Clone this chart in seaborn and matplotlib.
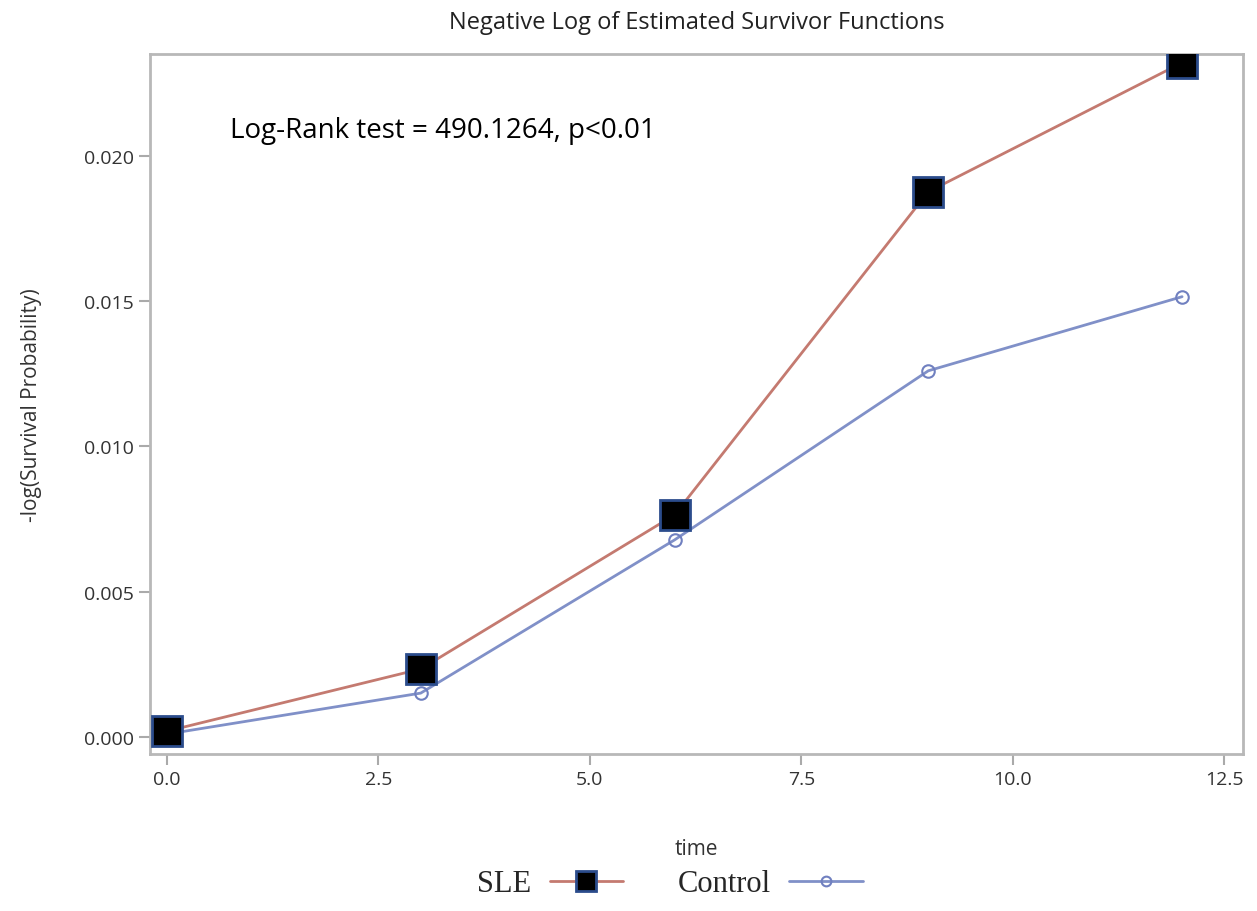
import pandas as pd
import numpy as np
import matplotlib.pyplot as plt
import seaborn as sns
from matplotlib.lines import Line2D

sns.set_style('white')
plt.rcParams['font.family'] = ['Open Sans', 'DejaVu Sans']

# данные
time = [0, 3, 6, 9, 12]
sle_vals = [0.0002, 0.00234, 0.00764, 0.01876, 0.0232]
control_vals = [0.0001, 0.00151, 0.00678, 0.0126, 0.01515]
groups = ['SLE', 'Control']

df = pd.DataFrame({
    'time': time * 2,
    'value': sle_vals + control_vals,
    'group': [groups[0]] * len(time) + [groups[1]] * len(time),
})

fig = plt.figure(figsize=(12.57, 9.12), dpi=100)
ax = fig.add_axes([150 / 1257, 1 - 755 / 912, (1243 - 150) / 1257, (755 - 55) / 912])

palette = {'SLE': '#c47a70', 'Control': '#8090c8'}
sns.lineplot(data=df, x='time', y='value', hue='group', palette=palette,
             linewidth=2, legend=False, ax=ax)

# маркеры
sle = df[df['group'] == 'SLE']
ctl = df[df['group'] == 'Control']
ax.plot(ctl['time'], ctl['value'], ls='none', marker='o', ms=9,
        mfc='none', mec='#7080c0', mew=1.5, zorder=5)
ax.plot(sle['time'], sle['value'], ls='none', marker='s', ms=21,
        mfc='black', mec='#2b4c8c', mew=2, zorder=6)

ax.set_xlim(-0.2, 12.72)
ax.set_ylim(-0.000585, 0.0235)
ax.set_xticks([0, 2.5, 5.0, 7.5, 10.0, 12.5])
ax.set_xticklabels(['0.0', '2.5', '5.0', '7.5', '10.0', '12.5'])
ax.set_yticks([0, 0.005, 0.010, 0.015, 0.020])
ax.set_yticklabels(['0.000', '0.005', '0.010', '0.015', '0.020'])
ax.tick_params(axis='both', colors='#aaaaaa', labelcolor='#333333', labelsize=14,
               length=8, width=1.5, direction='out', left=True, bottom=True)

for s in ax.spines.values():
    s.set_color('#b8b8b8')
    s.set_linewidth(2)

ax.set_xlabel('time', fontsize=15, color='#333333', labelpad=36)
ax.set_ylabel('-log(Survival Probability)', fontsize=15, color='#333333', labelpad=30)
ax.set_title('Negative Log of Estimated Survivor Functions', fontsize=17,
             color='#222222', pad=19)

ax.text(0.74, 0.0209, 'Log-Rank test = 490.1264, p<0.01', fontsize=20,
        color='black', va='center', ha='left')

# легенда внизу
handles = [
    Line2D([], [], color='#c47a70', lw=2, marker='s', ms=15, mfc='black',
           mec='#2b4c8c', mew=2),
    Line2D([], [], color='#8090c8', lw=2, marker='o', ms=7, mfc='none',
           mec='#7080c0', mew=1.5),
]
leg = fig.legend(handles, groups, loc='center', bbox_to_anchor=(670 / 1257, 1 - 885 / 912),
                 ncol=2, frameon=False, markerfirst=False, handlelength=2.4,
                 handletextpad=0.6, columnspacing=1.8,
                 prop={'family': 'Liberation Serif', 'size': 22})

plt.savefig('out.png', dpi=100)
plt.close()
